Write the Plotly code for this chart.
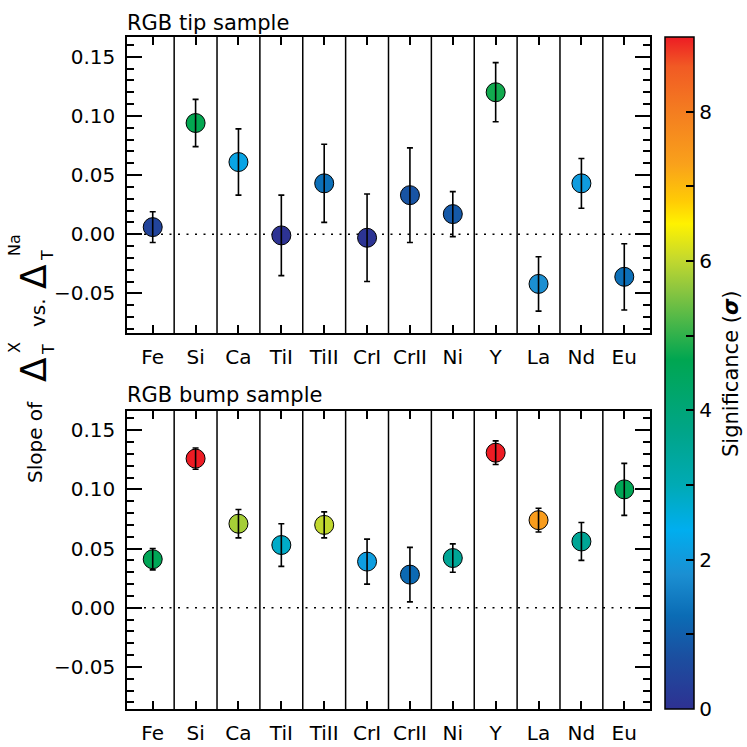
import plotly.graph_objects as go

# ---------------- data ----------------
elements = ["Fe", "Si", "Ca", "TiI", "TiII", "CrI", "CrII", "Ni", "Y", "La", "Nd", "Eu"]

tip_slope = [0.006, 0.094, 0.061, -0.001, 0.043, -0.003, 0.033, 0.017, 0.120, -0.042, 0.043, -0.036]
tip_err   = [0.013, 0.020, 0.028, 0.034, 0.033, 0.037, 0.040, 0.019, 0.025, 0.023, 0.021, 0.028]
tip_sig   = [0.45, 4.7, 2.2, 0.05, 1.3, 0.08, 0.8, 0.9, 4.8, 1.8, 2.05, 1.3]

bump_slope = [0.041, 0.126, 0.071, 0.053, 0.070, 0.039, 0.028, 0.042, 0.131, 0.074, 0.056, 0.100]
bump_err   = [0.009, 0.009, 0.012, 0.018, 0.011, 0.019, 0.023, 0.012, 0.010, 0.010, 0.016, 0.022]
bump_sig   = [4.6, 14.0, 5.8, 2.8, 6.0, 2.1, 1.2, 3.5, 13.0, 7.4, 3.5, 4.6]

ytick_vals = [-0.05, 0.00, 0.05, 0.10, 0.15]
cbar_ticks = [0, 1, 2, 3, 4, 5, 6, 7, 8]
cbar_text = ["0", "", "2", "", "4", "", "6", "", "8"]

# ---------------- layout geometry (pixels) ----------------
W = H = 747
L, R, T, B = 127, 650, 37, 709
pw, ph = R - L, B - T


def px(x):
    return (x - L) / pw


def py(y):
    return (B - y) / ph


xpos = list(range(len(elements)))
FONT = "DejaVu Sans"
FS = 20

colorscale = [
    [0.000, "#2e3192"],
    [0.078, "#1b4fa0"],
    [0.139, "#0b6cb5"],
    [0.200, "#1b8fd2"],
    [0.267, "#00aeef"],
    [0.333, "#00aab5"],
    [0.410, "#00a58a"],
    [0.520, "#00a651"],
    [0.580, "#50b848"],
    [0.625, "#8dc63f"],
    [0.670, "#c5d92d"],
    [0.722, "#fff200"],
    [0.756, "#ffcb05"],
    [0.811, "#f9a11b"],
    [0.889, "#f47d20"],
    [0.956, "#f15a24"],
    [1.000, "#ed1c24"],
]

fig = go.Figure()

for (xa, ya, slope, err, sig) in [("x", "y", tip_slope, tip_err, tip_sig),
                                 ("x2", "y2", bump_slope, bump_err, bump_sig)]:
    fig.add_trace(go.Scatter(
        x=xpos, y=slope, xaxis=xa, yaxis=ya, mode="markers",
        marker=dict(size=19, color=sig, coloraxis="coloraxis",
                    line=dict(color="black", width=1)),
        showlegend=False, hoverinfo="skip"))
    fig.add_trace(go.Scatter(
        x=xpos, y=slope, xaxis=xa, yaxis=ya, mode="markers",
        marker=dict(size=1, color="rgba(0,0,0,0)"),
        error_y=dict(type="data", array=err, color="black", thickness=1.6, width=3),
        showlegend=False, hoverinfo="skip"))

shapes = []
for xa, ya in [("x", "y"), ("x2", "y2")]:
    for i in range(len(elements) - 1):
        shapes.append(dict(type="line", xref=xa, yref=ya + " domain",
                           x0=i + 0.5, x1=i + 0.5, y0=0, y1=1,
                           line=dict(color="black", width=1.5), layer="below"))
    shapes.append(dict(type="line", xref=xa + " domain", yref=ya,
                       x0=0, x1=1, y0=0, y1=0,
                       line=dict(color="black", width=1.6, dash="2px,6.5px"), layer="below"))

xaxis_common = dict(range=[-0.6, len(elements) - 0.4], tickvals=xpos, ticktext=elements,
                    ticks="inside", ticklen=8, tickwidth=1.5, tickcolor="black",
                    showline=True, linewidth=1.5, linecolor="black", mirror="ticks",
                    showgrid=False, zeroline=False, ticklabelstandoff=5,
                    tickfont=dict(family=FONT, size=FS, color="black"))
yaxis_common = dict(tickvals=ytick_vals, tickformat=".2f",
                    ticks="inside", ticklen=15, tickwidth=1.5, tickcolor="black",
                    minor=dict(dtick=0.01, ticks="inside", ticklen=7, tickwidth=1.5, tickcolor="black"),
                    showline=True, linewidth=1.5, linecolor="black", mirror="ticks",
                    showgrid=False, zeroline=False, ticklabelstandoff=6,
                    tickfont=dict(family=FONT, size=FS, color="black"))

top_dom = [py(333), 1.0]
bot_dom = [0.0, py(411)]

fig.update_layout(
    width=W, height=H,
    margin=dict(l=L, r=W - R, t=T, b=H - B, pad=0, autoexpand=False),
    paper_bgcolor="white", plot_bgcolor="white",
    font=dict(family=FONT, size=FS, color="black"),
    xaxis=dict(**xaxis_common, domain=[0, 1], anchor="y"),
    yaxis=dict(**yaxis_common, domain=top_dom, range=[-0.0835, 0.1667], anchor="x"),
    xaxis2=dict(**xaxis_common, domain=[0, 1], anchor="y2"),
    yaxis2=dict(**yaxis_common, domain=bot_dom, range=[-0.0855, 0.1662], anchor="x2"),
    coloraxis=dict(
        cmin=0, cmax=9, colorscale=colorscale,
        colorbar=dict(
            x=px(665), xanchor="left", xref="paper", xpad=0, ypad=0,
            y=0.5, yanchor="middle", len=1.0, lenmode="fraction",
            thickness=29, outlinewidth=1.5, outlinecolor="black",
            tickvals=cbar_ticks, ticktext=cbar_text,
            ticks="inside", ticklen=8, tickwidth=1.5, tickcolor="black",
            tickfont=dict(family=FONT, size=FS, color="black"),
        )),
    shapes=shapes,
)

ann = []


def text_ann(txt, x, y, size=FS, angle=0, xanchor="center", yanchor="middle"):
    ann.append(dict(text=txt, xref="paper", yref="paper", x=px(x), y=py(y),
                    xanchor=xanchor, yanchor=yanchor, showarrow=False, textangle=angle,
                    font=dict(family=FONT, size=size, color="black")))


text_ann("RGB tip sample", 125, 37, size=21, xanchor="left", yanchor="bottom")
text_ann("RGB bump sample", 125, 409, size=21, xanchor="left", yanchor="bottom")

# colorbar title
text_ann("Significance (<b><i>σ</i></b>)", 731, 374, size=21, angle=-90)

# rotated y-axis title pieces: Slope of Δ_T^X vs. Δ_T^Na
text_ann("Slope of", 35, 442, angle=-90)
text_ann("Δ", 33, 370, size=36, angle=-90)
text_ann("X", 14, 348, size=16, angle=-90)
text_ann("T", 48, 350, size=16, angle=-90)
text_ann("vs.", 38, 313, angle=-90)
text_ann("Δ", 33, 277, size=36, angle=-90)
text_ann("Na", 14, 245, size=16, angle=-90)
text_ann("T", 48, 256, size=16, angle=-90)

fig.update_layout(annotations=ann)

fig.write_html("out.html", config={"displayModeBar": False},
               post_script="document.body.style.margin='0';document.body.style.padding='0';")
